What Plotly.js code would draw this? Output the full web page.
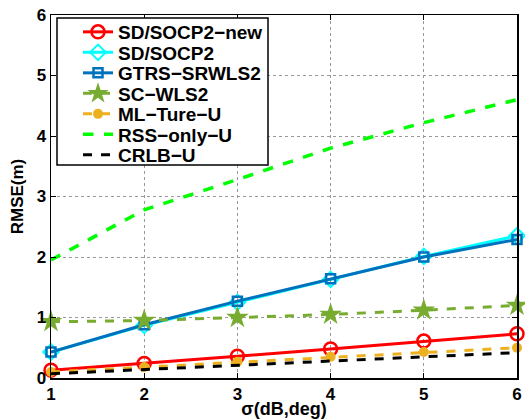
<!DOCTYPE html>
<html><head><meta charset="utf-8">
<script src="https://cdn.plot.ly/plotly-3.0.1.min.js"></script>
<style>body{margin:0;background:#fff}#c{width:525px;height:419px}</style>
</head><body><div id="c"></div>
<script>
const sigma = [1, 2, 3, 4, 5, 6];
const sdSocpNew = [0.13, 0.24, 0.36, 0.48, 0.61, 0.73];
const sdSocp = [0.43, 0.87, 1.25, 1.63, 2.01, 2.35];
const gtrs = [0.43, 0.88, 1.27, 1.64, 2.0, 2.29];
const scWls = [0.93, 0.95, 1.0, 1.05, 1.12, 1.2];
const mlTure = [0.1, 0.18, 0.27, 0.35, 0.43, 0.5];
const rssOnly = [1.95, 2.78, 3.28, 3.8, 4.22, 4.6];
const crlb = [0.07, 0.14, 0.21, 0.28, 0.35, 0.42];
const names = ['SD/SOCP2\u2212new','SD/SOCP2','GTRS\u2212SRWLS2','SC\u2212WLS2','ML\u2212Ture\u2212U','RSS\u2212only\u2212U','CRLB\u2212U'];

// plot area geometry (px) used to place legend rows
const W = 525, H = 419, ML = 51, MR = 8, MT = 15, MB = 41;
const PW = W - ML - MR, PH = H - MT - MB;
const px2x = p => (p - ML) / PW;
const px2y = p => (H - MB - p) / PH;
const rowY = [32, 52.5, 73, 93.5, 114, 134.5, 155];

const traces = [
 {y: sdSocpNew, name: names[0], mode:'lines+markers', line:{color:'#ff0000', width:3}, marker:{symbol:'circle-open', size:13, color:'#ff0000', line:{width:2.5}}},
 {y: sdSocp, name: names[1], mode:'lines+markers', line:{color:'#00ffff', width:3}, marker:{symbol:'diamond-open', size:12, color:'#00ffff', line:{width:2}}},
 {y: gtrs, name: names[2], mode:'lines+markers', line:{color:'#0072bd', width:3}, marker:{symbol:'square-open', size:9, color:'#0072bd', line:{width:2.5}}},
 {y: scWls, name: names[3], mode:'lines+markers', line:{color:'#77ac30', width:3, dash:'dash'}, marker:{symbol:'star', size:17, color:'#77ac30'}},
 {y: mlTure, name: names[4], mode:'lines+markers', line:{color:'#edb120', width:3, dash:'dash'}, marker:{symbol:'circle', size:10, color:'#edb120'}},
 {y: rssOnly, name: names[5], mode:'lines', line:{color:'#00ff00', width:3.5, dash:'dash'}},
 {y: crlb, name: names[6], mode:'lines', line:{color:'#000000', width:3, dash:'dash'}}
].map((t, i) => Object.assign({x: sigma, type:'scatter', cliponaxis:false, legend: i === 0 ? 'legend' : 'legend' + (i + 1)}, t));

const legendFont = {family:'Arial, Liberation Sans, sans-serif', size:19, weight:'bold', color:'#000'};
const layout = {
 width:W, height:H,
 margin:{l:ML, r:MR, t:MT, b:MB},
 paper_bgcolor:'#fff', plot_bgcolor:'#fff',
 font:{family:'Arial, Liberation Sans, sans-serif', size:15, color:'#000'},
 showlegend:true,
 shapes:[{type:'rect', xref:'paper', yref:'paper', layer:'above',
   x0:px2x(57), x1:px2x(268), y0:px2y(165), y1:px2y(18),
   line:{color:'#000', width:1.5}, fillcolor:'#fff'}],
 xaxis:{range:[1,6], tickvals:sigma, ticktext:sigma.map(String), ticks:'inside', ticklen:5, tickwidth:1, tickcolor:'#000',
   showline:true, linecolor:'#000', linewidth:1.5, mirror:'ticks', showgrid:true, gridcolor:'#999', griddash:'dot', gridwidth:1,
   zeroline:false, tickfont:{size:17, weight:'bold'},
   title:{text:'\u03c3(dB,deg)', font:{size:18, weight:'bold'}, standoff:3}},
 yaxis:{range:[0,6], dtick:1, ticks:'inside', ticklen:5, tickwidth:1, tickcolor:'#000',
   showline:true, linecolor:'#000', linewidth:1.5, mirror:'ticks', showgrid:true, gridcolor:'#999', griddash:'dot', gridwidth:1,
   zeroline:false, tickfont:{size:17, weight:'bold'},
   title:{text:'RMSE(m)', font:{size:17, weight:'bold'}, standoff:8}}
};
rowY.forEach((ry, i) => {
  const key = i === 0 ? 'legend' : 'legend' + (i + 1);
  layout[key] = {x: px2x(78), y: px2y(ry), xanchor:'left', yanchor:'middle', bgcolor:'rgba(0,0,0,0)',
    borderwidth:0, font: legendFont, itemwidth:30};
});
Plotly.newPlot('c', traces, layout, {displayModeBar:false, staticPlot:true});
</script></body></html>
